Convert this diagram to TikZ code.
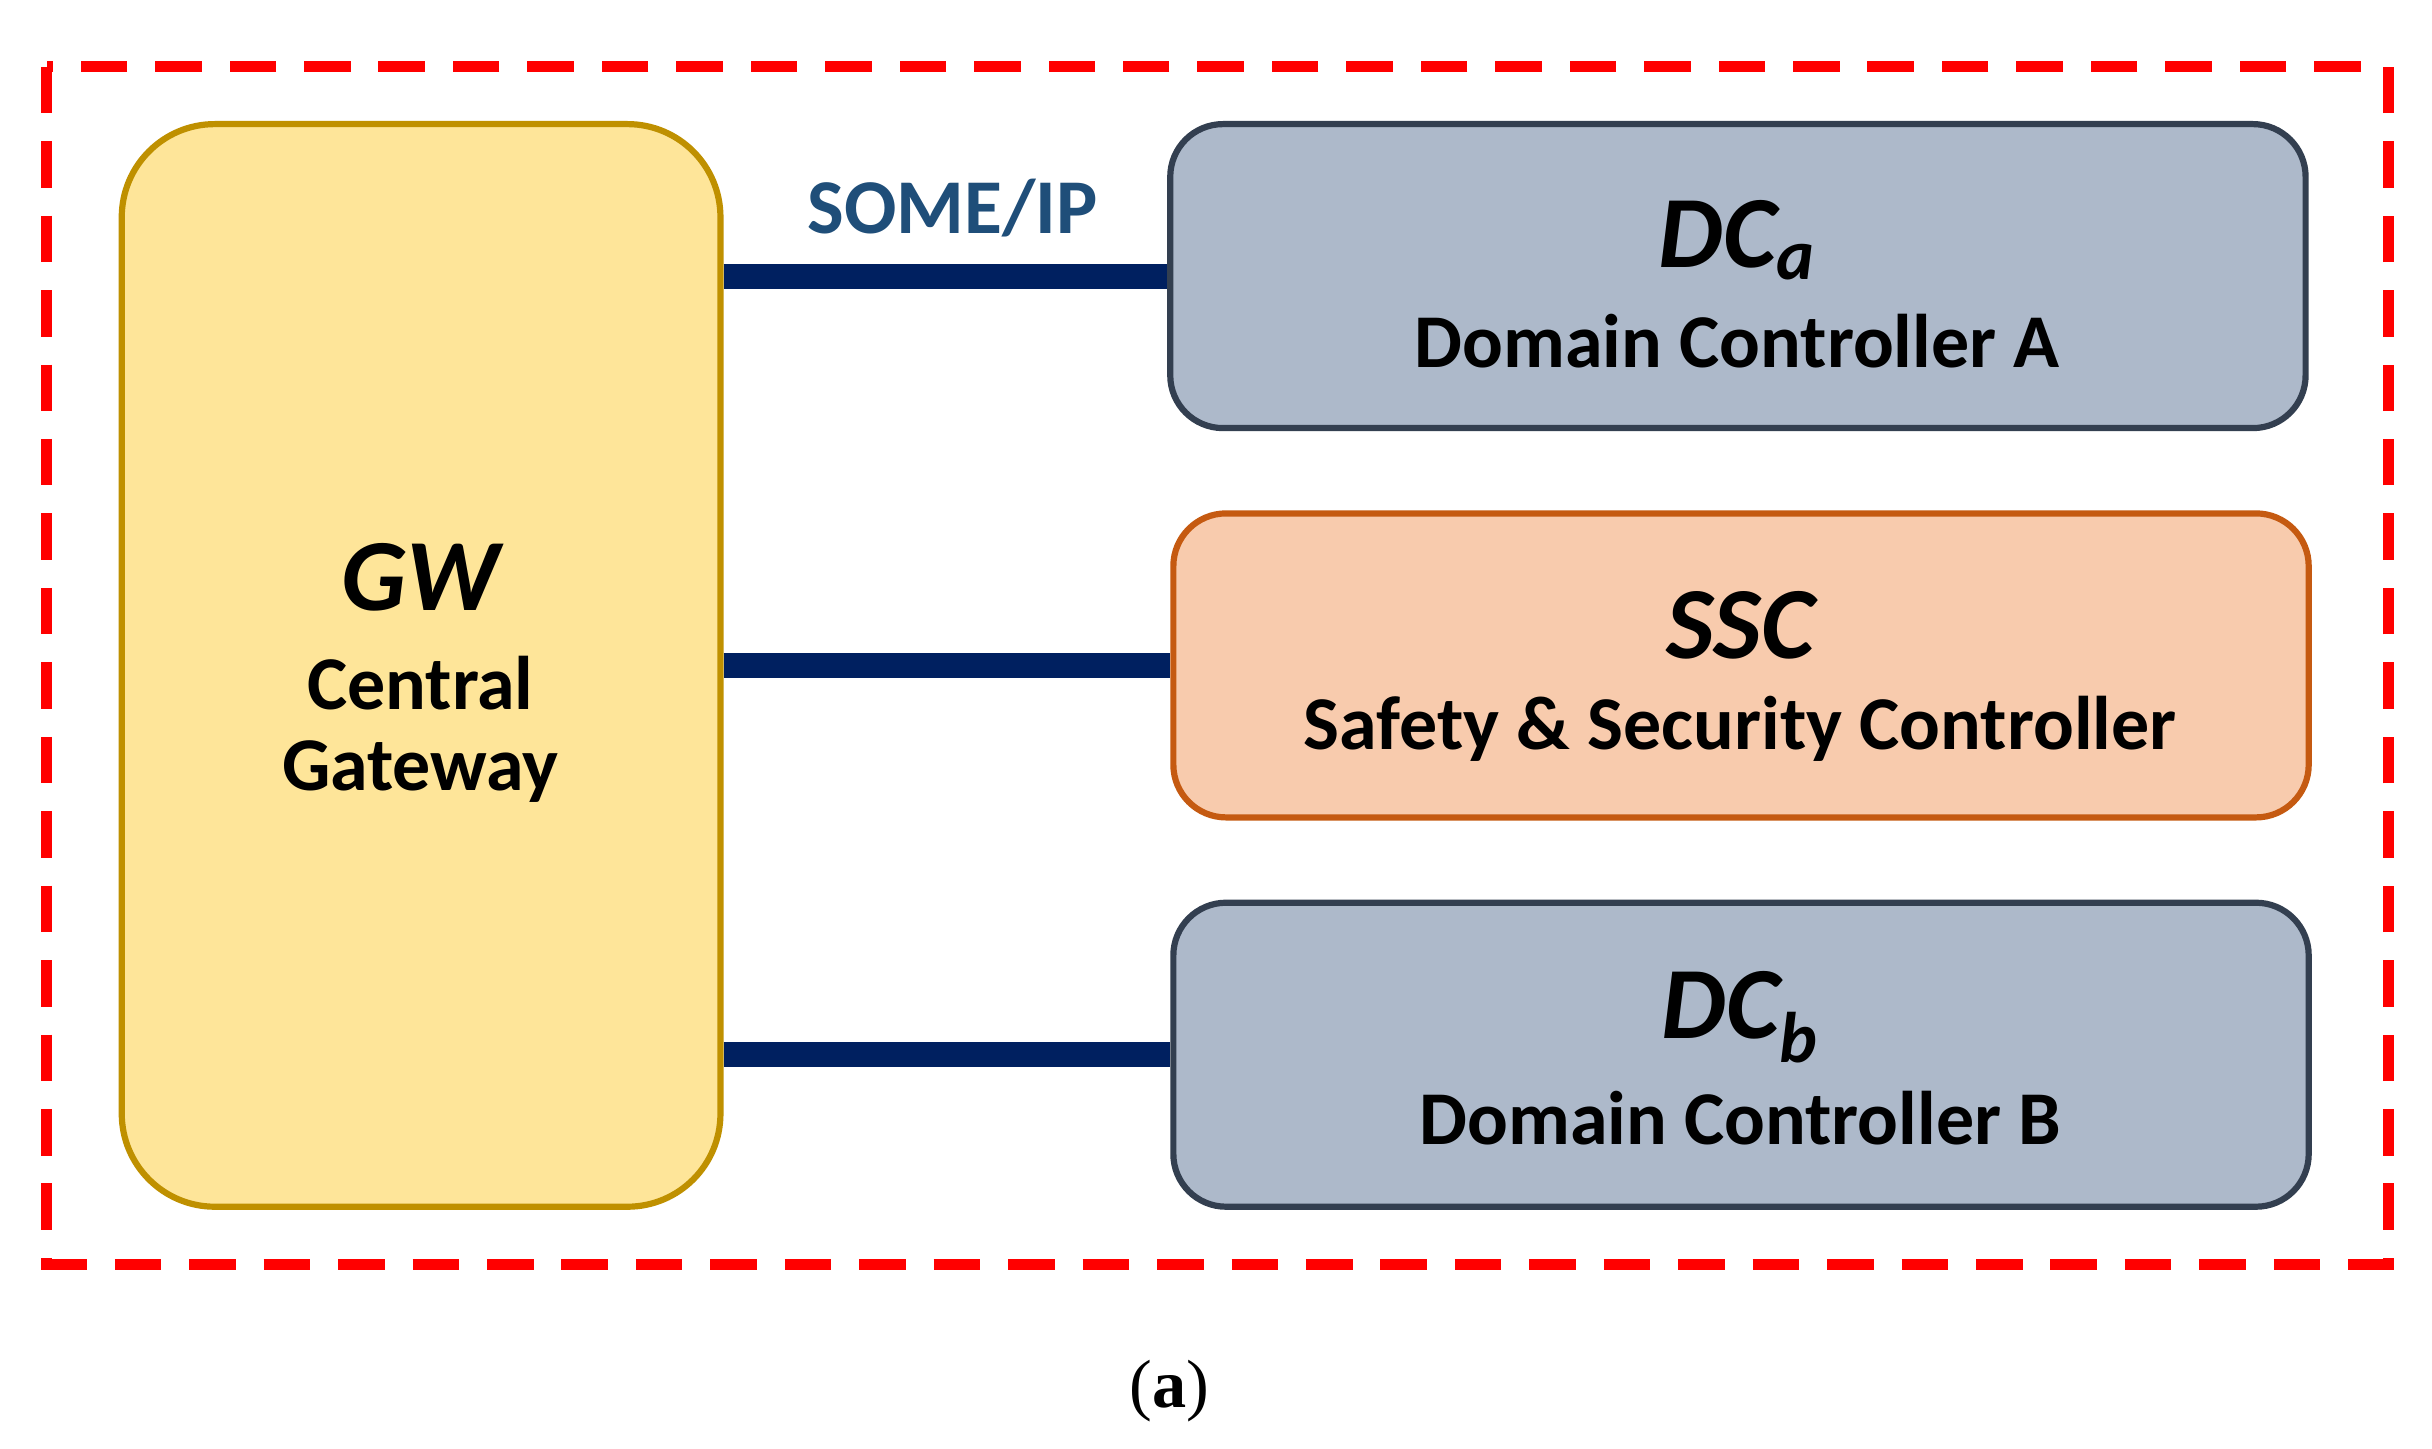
\documentclass[tikz,border=0pt]{standalone}
\usepackage{fontspec}
\setmainfont{Carlito}
\newfontfamily\serifa{Liberation Serif}
\begin{document}
\begin{tikzpicture}[x=0.5pt,y=-0.5pt,
  box/.style={rectangle,rounded corners=17pt,line width=2pt,inner sep=0pt},
  link/.style={line width=8pt,draw=link},
  ttl/.style={font=\fontsize{33}{36}\selectfont\bfseries\itshape},
  sub/.style={font=\fontsize{24.5}{28}\selectfont\bfseries}]
\definecolor{link}{HTML}{002060}
\definecolor{gwf}{HTML}{FEE599}
\definecolor{gwd}{HTML}{BF9000}
\definecolor{dcf}{HTML}{ADB9CA}
\definecolor{dcd}{HTML}{333F50}
\definecolor{ssf}{HTML}{F8CBAD}
\definecolor{ssd}{HTML}{C55A11}
\definecolor{lab}{HTML}{1F4E79}
\useasboundingbox (0,0) rectangle (1568,933.6);
\draw[red,line width=3.5pt,dash pattern=on 15pt off 9pt] (30,43) rectangle (1540,815);
\node[box,rounded corners=30pt,fill=gwf,draw=gwd,minimum width=193pt,minimum height=349pt] (gw) at (271.5,429) {};
\node[box,fill=dcf,draw=dcd,minimum width=366pt,minimum height=98pt] (dca) at (1120.5,178) {};
\node[box,fill=ssf,draw=ssd,minimum width=366pt,minimum height=98pt] (ssc) at (1122.5,429) {};
\node[box,fill=dcf,draw=dcd,minimum width=366pt,minimum height=98pt] (dcb) at (1122.5,680) {};
\draw[link] (dca.west -| gw.east) -- (dca.west);
\draw[link] (ssc.west -| gw.east) -- (ssc.west);
\draw[link] (dcb.west -| gw.east) -- (dcb.west);
\node[font=\fontsize{25}{28}\selectfont\bfseries,text=lab] (someip) at (614,134) {SOME/IP};
\node[ttl] (gwt) at (271,372) {GW};
\node[sub,align=center] (gws) at (271,470) {Central\\[-2pt]Gateway};
\node[ttl] (dcat) at (1120,155) {DC\textsubscript{a}};
\node[sub] (dcas) at (1120,220) {Domain Controller A};
\node[ttl] (ssct) at (1122,403) {SSC};
\node[sub] (sscs) at (1122,470) {Safety \& Security Controller};
\node[ttl] (dcbt) at (1122,656) {DC\textsubscript{b}};
\node[sub] (dcbs) at (1122,721) {Domain Controller B};
\node[font=\serifa\fontsize{22}{24}\selectfont] (cap) at (754,897) {(\textbf{a})};
\end{tikzpicture}
\end{document}
